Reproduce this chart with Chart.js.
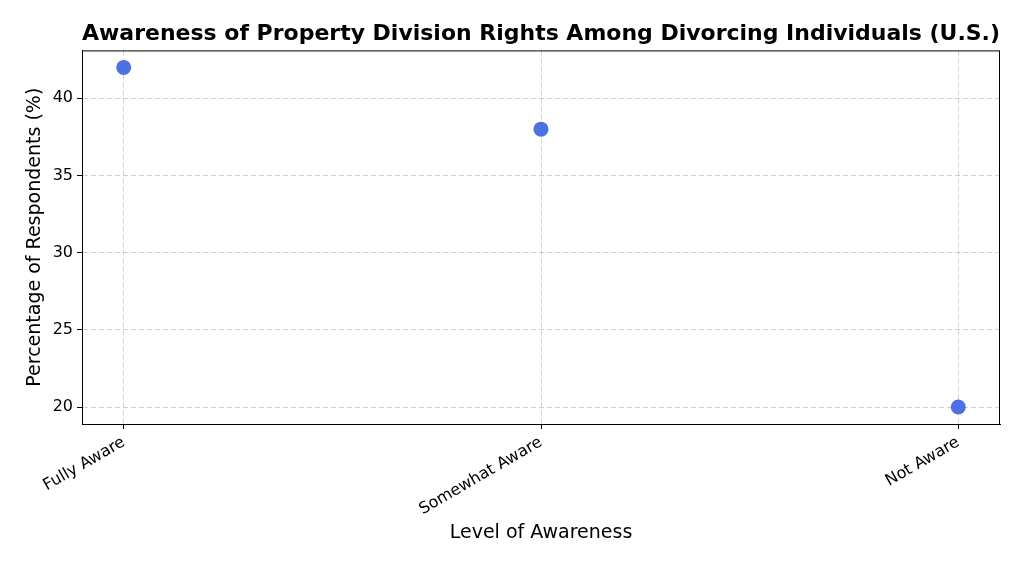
<!DOCTYPE html>
<html>
<head>
<meta charset="utf-8">
<script src="https://cdn.jsdelivr.net/npm/chart.js@4"></script>
<style>
  html, body { margin: 0; padding: 0; background: #fff; }
  #wrap { width: 1024px; height: 569px; }
</style>
</head>
<body>
<div id="wrap"><canvas id="chart"></canvas></div>
<script>
const categories = ['Fully Aware', 'Somewhat Aware', 'Not Aware'];
const percentages = [42, 38, 20];
const yTicks = [20, 25, 30, 35, 40];

const FONT = "'DejaVu Sans', sans-serif";

// draw the full frame around the plot area, like matplotlib spines,
// and center the title over the plot area instead of the whole canvas
const framePlugin = {
  id: 'frame',
  afterLayout(chart) {
    if (chart.titleBlock) {
      chart.titleBlock.left = chart.chartArea.left;
      chart.titleBlock.right = chart.chartArea.right;
    }
  },
  afterDraw(chart) {
    const { ctx, chartArea: a } = chart;
    ctx.save();
    ctx.strokeStyle = '#000';
    ctx.lineWidth = 1;
    ctx.strokeRect(a.left + 0.5, a.top + 0.5, a.right - a.left - 1, a.bottom - a.top);
    ctx.restore();
  }
};

const points = percentages.map((v, i) => ({ x: i, y: v }));

new Chart(document.getElementById('chart'), {
  type: 'scatter',
  data: {
    datasets: [{
      data: points,
      backgroundColor: 'rgba(65, 105, 225, 0.95)',
      borderWidth: 0,
      pointRadius: 7.5,
      pointHoverRadius: 7.5
    }]
  },
  options: {
    responsive: true,
    maintainAspectRatio: false,
    animation: false,
    layout: { padding: { left: 20, right: 24, top: 0, bottom: 21 } },
    plugins: {
      legend: { display: false },
      tooltip: { enabled: false },
      title: {
        display: true,
        text: 'Awareness of Property Division Rights Among Divorcing Individuals (U.S.)',
        color: '#000',
        font: { family: FONT, size: 22, weight: 'bold' },
        padding: { top: 21, bottom: 3 }
      }
    },
    scales: {
      x: {
        type: 'linear',
        min: -0.1,
        max: 2.1,
        z: 1,
        afterBuildTicks(scale) {
          scale.ticks = categories.map((c, i) => ({ value: i }));
        },
        afterFit(scale) { scale.height = 145 - 21; },
        ticks: {
          color: '#000',
          font: { family: FONT, size: 16 },
          maxRotation: 30,
          minRotation: 30,
          padding: 4,
          callback: (v) => categories[v]
        },
        grid: {
          color: 'rgba(176, 176, 176, 0.6)',
          tickColor: '#000',
          tickLength: 5,
          tickBorderDash: []
        },
        border: { display: true, color: '#000', dash: [5, 3] },
        title: {
          display: true,
          text: 'Level of Awareness',
          color: '#000',
          font: { family: FONT, size: 19 }
        }
      },
      y: {
        min: 18.9,
        max: 43.1,
        z: 1,
        afterBuildTicks(scale) {
          scale.ticks = yTicks.map(v => ({ value: v }));
        },
        afterFit(scale) { scale.width = 62; },
        ticks: {
          color: '#000',
          font: { family: FONT, size: 16 },
          padding: 4
        },
        grid: {
          color: 'rgba(176, 176, 176, 0.6)',
          tickColor: '#000',
          tickLength: 5,
          tickBorderDash: []
        },
        border: { display: true, color: '#000', dash: [5, 3] },
        title: {
          display: true,
          text: 'Percentage of Respondents (%)',
          color: '#000',
          font: { family: FONT, size: 19 }
        }
      }
    }
  },
  plugins: [framePlugin]
});
</script>
</body>
</html>
